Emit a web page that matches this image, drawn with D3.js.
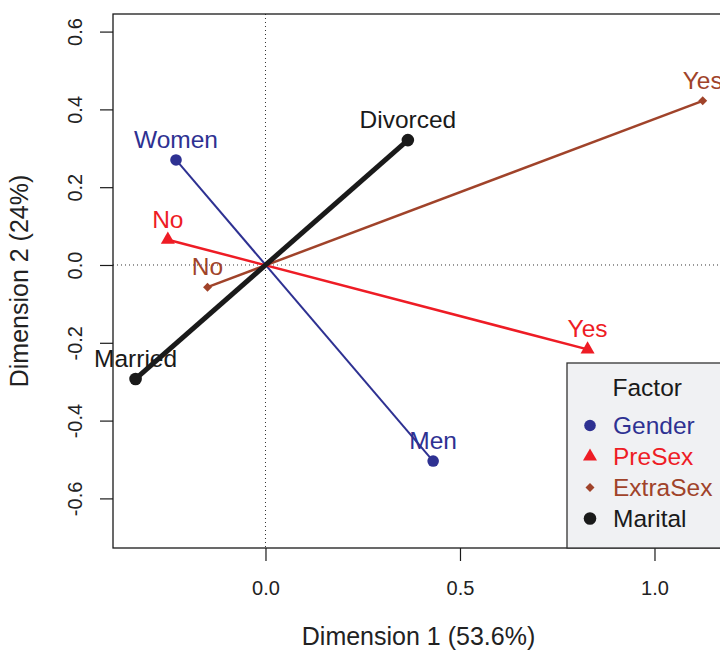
<!DOCTYPE html>
<html>
<head>
<meta charset="utf-8">
<script src="https://cdn.jsdelivr.net/npm/d3@7"></script>
<style>
  html, body { margin: 0; padding: 0; background: #ffffff; }
  svg { display: block; font-family: "Liberation Sans", Arial, Helvetica, sans-serif; }
</style>
</head>
<body>
<div id="chart"></div>
<script>
// Correspondence analysis biplot: category coordinates per factor
const factors = ["Gender", "PreSex", "ExtraSex", "Marital"];
const levels  = [["Women", "Men"], ["No", "Yes"], ["No", "Yes"], ["Married", "Divorced"]];
const dim1    = [[-0.230, 0.431], [-0.251, 0.828], [-0.149, 1.124], [-0.334, 0.366]];
const dim2    = [[0.270, -0.504], [0.065, -0.217], [-0.057, 0.422], [-0.293, 0.321]];
const colors  = ["#2E3192", "#EE1C25", "#A0432A", "#1A1A1A"];
const shapes  = ["circle", "triangle", "diamond", "bigcircle"];
const xTicks  = [0.0, 0.5, 1.0];
const yTicks  = [-0.6, -0.4, -0.2, 0.0, 0.2, 0.4, 0.6];
const xTitle  = "Dimension 1 (53.6%)";
const yTitle  = "Dimension 2 (24%)";

const W = 720, H = 651;
const plot = { left: 113, right: 724, top: 14, bottom: 548 };

const x = d3.scaleLinear().domain([-0.392, 1.1787]).range([plot.left, plot.right]);
const y = d3.scaleLinear().domain([-0.7275, 0.6452]).range([plot.bottom, plot.top]);

const svg = d3.select("#chart").append("svg")
  .attr("width", W).attr("height", H);

// Reference lines through the origin
svg.append("line")
  .attr("x1", x(0)).attr("x2", x(0)).attr("y1", plot.top).attr("y2", plot.bottom)
  .attr("stroke", "#333").attr("stroke-width", 1).attr("stroke-dasharray", "1,3");
svg.append("line")
  .attr("x1", plot.left).attr("x2", plot.right).attr("y1", y(0)).attr("y2", y(0))
  .attr("stroke", "#333").attr("stroke-width", 1).attr("stroke-dasharray", "1,3");

const lineWidths = [2, 2.5, 2.5, 5];

function drawSymbol(g, shape, cx, cy, color) {
  if (shape === "circle") {
    g.append("circle").attr("cx", cx).attr("cy", cy).attr("r", 5.8).attr("fill", color);
  } else if (shape === "bigcircle") {
    g.append("circle").attr("cx", cx).attr("cy", cy).attr("r", 6.3).attr("fill", color);
  } else if (shape === "triangle") {
    g.append("path").attr("d", d3.symbol(d3.symbolTriangle, 85)())
      .attr("transform", `translate(${cx},${cy})`).attr("fill", color);
  } else if (shape === "diamond") {
    g.append("path").attr("d", d3.symbol(d3.symbolSquare, 40)())
      .attr("transform", `translate(${cx},${cy}) rotate(45)`).attr("fill", color);
  }
}

// Factor segments, points and category labels
factors.forEach((f, i) => {
  const g = svg.append("g").attr("class", "factor-" + f);
  g.append("line")
    .attr("x1", x(dim1[i][0])).attr("y1", y(dim2[i][0]))
    .attr("x2", x(dim1[i][1])).attr("y2", y(dim2[i][1]))
    .attr("stroke", colors[i]).attr("stroke-width", lineWidths[i]);
  for (let j = 0; j < 2; j++) {
    const cx = x(dim1[i][j]), cy = y(dim2[i][j]);
    drawSymbol(g, shapes[i], cx, cy, colors[i]);
    g.append("text")
      .attr("x", cx).attr("y", cy - 12)
      .attr("text-anchor", "middle")
      .attr("font-size", 24.5)
      .attr("fill", colors[i])
      .text(levels[i][j]);
  }
});

// Plot frame
svg.append("rect")
  .attr("x", plot.left).attr("y", plot.top)
  .attr("width", plot.right - plot.left).attr("height", plot.bottom - plot.top)
  .attr("fill", "none").attr("stroke", "#1a1a1a").attr("stroke-width", 1.3);

// Axes
const fmt = d => d.toFixed(1);
const xAxis = svg.append("g")
  .attr("transform", `translate(0,${plot.bottom})`)
  .call(d3.axisBottom(x).tickValues(xTicks).tickFormat(fmt).tickSize(13).tickPadding(20));
xAxis.select(".domain").remove();
xAxis.selectAll(".tick line").attr("stroke", "#1a1a1a").attr("stroke-width", 1.2);
xAxis.selectAll(".tick text")
  .attr("font-size", 20).attr("fill", "#222")
  .style("font-family", "Liberation Sans, Arial, sans-serif");

const yAxis = svg.append("g")
  .attr("transform", `translate(${plot.left},0)`)
  .call(d3.axisLeft(y).tickValues(yTicks).tickFormat(fmt).tickSize(13));
yAxis.select(".domain").remove();
yAxis.selectAll(".tick line").attr("stroke", "#1a1a1a").attr("stroke-width", 1.2);
yAxis.selectAll(".tick text")
  .attr("transform", "rotate(-90)")
  .attr("x", 0).attr("y", -31).attr("dy", null)
  .attr("text-anchor", "middle")
  .attr("font-size", 20).attr("fill", "#222")
  .style("font-family", "Liberation Sans, Arial, sans-serif");

// Axis titles
svg.append("text")
  .attr("x", (plot.left + plot.right) / 2).attr("y", 645)
  .attr("text-anchor", "middle").attr("font-size", 25).attr("fill", "#222")
  .text(xTitle);
svg.append("text")
  .attr("transform", `translate(28,${(plot.top + plot.bottom) / 2}) rotate(-90)`)
  .attr("text-anchor", "middle").attr("font-size", 25).attr("fill", "#222")
  .text(yTitle);

// Legend
const lg = svg.append("g").attr("class", "legend");
lg.append("rect")
  .attr("x", 567).attr("y", 363).attr("width", 200).attr("height", plot.bottom - 363)
  .attr("fill", "#F0F1F3").attr("stroke", "#333").attr("stroke-width", 1.3);
lg.append("text")
  .attr("x", 612.5).attr("y", 396)
  .attr("font-size", 24.5).attr("fill", "#1a1a1a")
  .text("Factor");
factors.forEach((f, i) => {
  const ly = 434 + i * 31;
  drawSymbol(lg, shapes[i], 590, ly - 8.5, colors[i]);
  lg.append("text")
    .attr("x", 613).attr("y", ly)
    .attr("font-size", 24.5).attr("fill", colors[i])
    .text(f);
});
</script>
</body>
</html>
